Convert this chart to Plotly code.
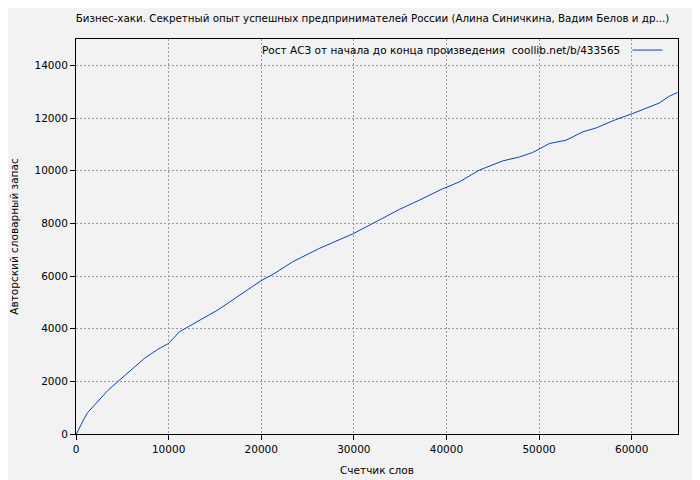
import plotly.graph_objects as go

title_text = "Бизнес-хаки. Секретный опыт успешных предпринимателей России (Алина Синичкина, Вадим Белов и др...)"
legend_text = "Рост АСЗ от начала до конца произведения  coollib.net/b/433565"
x_title = "Счетчик слов"
y_title = "Авторский словарный запас"

words = [0, 100, 900, 1250, 2330, 3410, 4500, 5760, 7380, 8820, 10000, 11160, 12050,
         13500, 15290, 16740, 18530, 19980, 21300, 23390, 26270, 28430, 29980, 32030,
         34910, 37070, 39400, 41390, 43550, 46070, 47870, 49310, 51110, 52920, 54710,
         56160, 58320, 60110, 61910, 62990, 64070, 64970]
vocab = [0, 40, 596, 810, 1226, 1645, 1985, 2365, 2870, 3214, 3440, 3880, 4050,
         4350, 4705, 5060, 5465, 5820, 6070, 6540, 7047, 7360, 7615, 7995,
         8527, 8880, 9280, 9575, 10020, 10370, 10520, 10690, 11030, 11157, 11472,
         11624, 11943, 12170, 12420, 12570, 12830, 12970]

x_ticks = [0, 10000, 20000, 30000, 40000, 50000, 60000]
y_ticks = [0, 2000, 4000, 6000, 8000, 10000, 12000, 14000]

FONT = "DejaVu Sans"
FS = 10.5
BG = "#f2f2f2"

fig = go.Figure()
fig.add_trace(go.Scatter(x=words, y=vocab, mode="lines", name=" ",
                         line=dict(color="#0a45b5", width=1), showlegend=True))

axis_common = dict(showline=True, linecolor="black", linewidth=1, mirror=True,
                   ticks="outside", ticklen=5, tickcolor="black",
                   showgrid=True, gridcolor="#999999", gridwidth=1, griddash="2px,2px",
                   zeroline=False, tickfont=dict(family=FONT, size=FS, color="black"),
                   automargin=False)

fig.update_xaxes(range=[0, 65000], tickvals=x_ticks, ticktext=[str(v) for v in x_ticks],
                 title=dict(text=x_title, font=dict(family=FONT, size=FS, color="black"), standoff=13),
                 **axis_common)
fig.update_yaxes(range=[0, 15000], tickvals=y_ticks, ticktext=[str(v) for v in y_ticks],
                 title=dict(text=y_title, font=dict(family=FONT, size=FS, color="black"), standoff=22),
                 **axis_common)

fig.add_annotation(text=legend_text, xref="paper", yref="paper", x=0.907, y=0.972,
                   xanchor="right", yanchor="middle", showarrow=False,
                   font=dict(family=FONT, size=FS, color="black"))

fig.update_layout(
    width=700, height=480,
    paper_bgcolor=BG, plot_bgcolor=BG,
    margin=dict(l=68, r=30, t=31, b=54),
    title=dict(text=title_text, xref="paper", x=0.4925, xanchor="center",
               yref="container", y=0.979, yanchor="middle",
               font=dict(family=FONT, size=10.3, color="black")),
    legend=dict(x=0.916, y=0.972, xanchor="left", yanchor="middle",
                bgcolor="rgba(0,0,0,0)", borderwidth=0, font=dict(family=FONT, size=FS),
                itemwidth=30),
    showlegend=True,
)

fig.write_html("out.html")
